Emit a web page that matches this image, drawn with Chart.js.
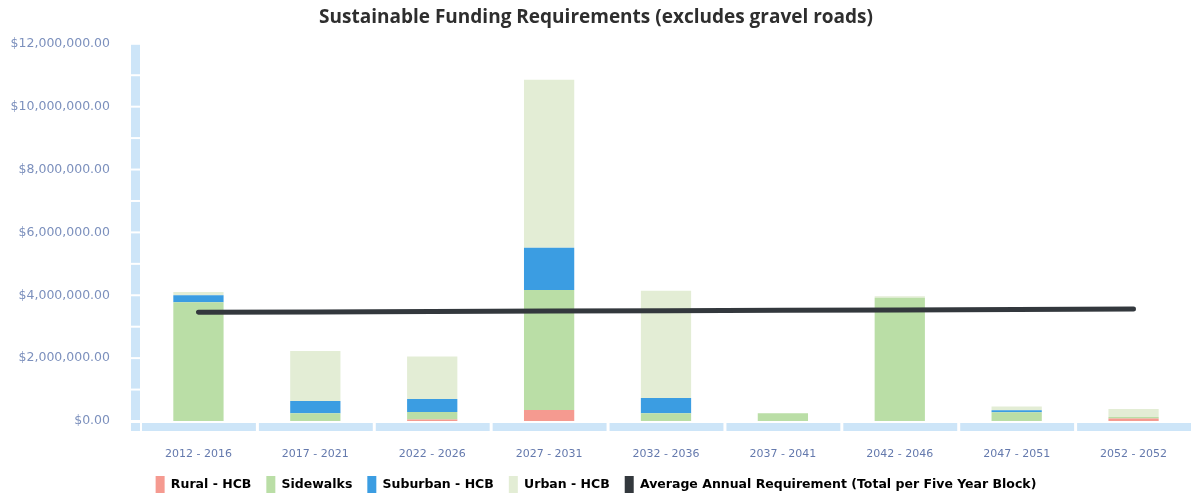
<!DOCTYPE html>
<html>
<head>
<meta charset="utf-8">
<title>Sustainable Funding Requirements</title>
<script src="https://cdn.jsdelivr.net/npm/chart.js@4.4.1/dist/chart.umd.min.js"></script>
<style>
  html, body { margin: 0; padding: 0; background: #fff; }
  #wrap { width: 1193px; height: 495px; position: relative; }
</style>
</head>
<body>
<div id="wrap"><canvas id="fundingChart"></canvas></div>
<script>
const periods = ["2012 - 2016", "2017 - 2021", "2022 - 2026", "2027 - 2031", "2032 - 2036",
                 "2037 - 2041", "2042 - 2046", "2047 - 2051", "2052 - 2052"];

// dollars per five year block
const ruralHcb    = [0, 0, 50000, 350000, 0, 0, 0, 0, 80000];
const sidewalks   = [3780000, 250000, 240000, 3820000, 250000, 250000, 3920000, 280000, 50000];
const suburbanHcb = [220000, 390000, 410000, 1340000, 480000, 0, 0, 60000, 0];
const urbanHcb    = [100000, 1590000, 1350000, 5350000, 3410000, 0, 50000, 120000, 250000];
const avgAnnual   = [3460000, 3470000, 3480000, 3500000, 3510000, 3520000, 3530000, 3550000, 3560000];

const yTicks = [0, 2000000, 4000000, 6000000, 8000000, 10000000, 12000000];

const axisBlue = "#cde5f8";

// light blue "3d" axis strips, broken into segments
const axisStrips = {
    id: "axisStrips",
    beforeDatasetsDraw(chart) {
        const { ctx, chartArea: a, scales } = chart;
        ctx.save();
        ctx.fillStyle = axisBlue;
        // vertical strip, one piece per million
        const y = scales.y;
        for (let v = 0; v < 12000000; v += 1000000) {
            const top = y.getPixelForValue(v + 1000000);
            const bot = y.getPixelForValue(v);
            ctx.fillRect(a.left - 9, top + 1, 9, bot - top - 2);
        }
        // corner piece
        ctx.fillRect(a.left - 9, a.bottom + 2, 9, 8);
        // horizontal strip, one piece per category
        const x = scales.x;
        const w = (a.right - a.left) / periods.length;
        periods.forEach((p, i) => {
            const c = x.getPixelForValue(i);
            ctx.fillRect(c - w / 2 + 2, a.bottom + 2, w - 3, 8);
        });
        ctx.restore();
    }
};

const ctx = document.getElementById("fundingChart").getContext("2d");

new Chart(ctx, {
    data: {
        labels: periods,
        datasets: [
            { type: "bar", label: "Rural - HCB", data: ruralHcb, backgroundColor: "#f59a90", stack: "blocks", order: 1 },
            { type: "bar", label: "Sidewalks", data: sidewalks, backgroundColor: "#badea6", stack: "blocks", order: 1 },
            { type: "bar", label: "Suburban - HCB", data: suburbanHcb, backgroundColor: "#3b9de2", stack: "blocks", order: 1 },
            { type: "bar", label: "Urban - HCB", data: urbanHcb, backgroundColor: "#e3edd5", stack: "blocks", order: 1 },
            {
                type: "line",
                label: "Average Annual Requirement (Total per Five Year Block)",
                data: avgAnnual,
                borderColor: "#33383d",
                backgroundColor: "#33383d",
                borderWidth: 5,
                borderCapStyle: "round",
                pointRadius: 0,
                tension: 0,
                stack: "avg",
                order: 0
            }
        ]
    },
    options: {
        responsive: true,
        maintainAspectRatio: false,
        animation: false,
        datasets: {
            bar: { barPercentage: 0.43, categoryPercentage: 1.0 }
        },
        layout: { padding: { top: 6, right: 1, left: 0, bottom: -8 } },
        plugins: {
            title: {
                display: true,
                text: "Sustainable Funding Requirements (excludes gravel roads)",
                color: "#2e2e2e",
                font: { family: "Open Sans", weight: "bold", size: 19 },
                padding: { top: 0, bottom: 15 }
            },
            legend: {
                position: "bottom",
                labels: {
                    boxWidth: 9,
                    boxHeight: 17,
                    padding: 15,
                    color: "#4a5b94",
                    font: { family: "DejaVu Sans", weight: "bold", size: 12.5 },
                    generateLabels(chart) {
                        return chart.data.datasets.map((ds, i) => ({
                            text: ds.label,
                            fillStyle: ds.type === "line" ? ds.borderColor : ds.backgroundColor,
                            strokeStyle: "rgba(0,0,0,0)",
                            lineWidth: 0,
                            datasetIndex: i,
                            hidden: false
                        }));
                    }
                }
            },
            tooltip: { enabled: false }
        },
        scales: {
            x: {
                stacked: true,
                grid: { display: false },
                border: { display: false },
                afterFit(scale) {
                    scale.height = 40;
                },
                ticks: {
                    color: "#6479ad",
                    font: { family: "DejaVu Sans", size: 11 },
                    padding: 19,
                    maxRotation: 0
                }
            },
            y: {
                stacked: true,
                min: 0,
                max: 12000000,
                grid: { display: false },
                border: { display: false },
                afterBuildTicks(scale) {
                    scale.ticks = yTicks.map(v => ({ value: v }));
                },
                afterFit(scale) {
                    scale.width = 140;
                },
                ticks: {
                    color: "#7c90bd",
                    font: { family: "DejaVu Sans", size: 12.5 },
                    padding: 22,
                    callback: v => "$" + Number(v).toLocaleString("en-US", { minimumFractionDigits: 2, maximumFractionDigits: 2 })
                }
            }
        }
    },
    plugins: [axisStrips]
});
</script>
</body>
</html>
